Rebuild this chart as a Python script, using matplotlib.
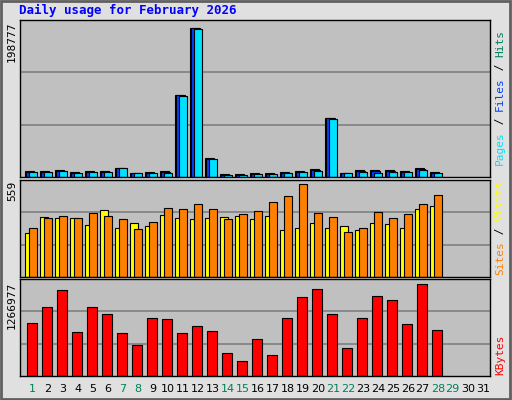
import matplotlib
matplotlib.use("Agg")
import matplotlib.pyplot as plt
from matplotlib.patches import Rectangle

days = list(range(1, 32))
ndays = 28
hits = [7628, 7628, 8974, 6282, 7628, 7628, 11666, 4936, 6282, 7628, 109932, 198777, 25127, 3590,
        3590, 4936, 4936, 6282, 7628, 10320, 78971, 4936, 8974, 8974, 8974, 7628, 11666, 6282]
files = [7000, 7000, 8300, 5600, 7000, 7000, 11666, 4936, 5600, 6300, 109000, 198300, 24500, 2900,
         2900, 4300, 4300, 5600, 7000, 9000, 78300, 4936, 7600, 7600, 7600, 7000, 10300, 5600]
pages = [6282, 6282, 7628, 4936, 6282, 6282, 11666, 4936, 4936, 4936, 108137, 197880, 23781, 2244,
         2244, 3590, 3590, 4936, 6282, 7628, 77625, 4936, 6282, 4936, 6282, 6282, 8974, 4936]
sites = [262, 359, 353, 353, 311, 402, 292, 323, 305, 371, 353, 347, 353, 359,
         365, 347, 365, 280, 292, 323, 292, 305, 280, 323, 317, 292, 408, 426]
visits = [292, 353, 369, 353, 384, 369, 347, 287, 329, 414, 408, 438, 408, 347,
          377, 396, 450, 486, 559, 384, 359, 268, 292, 389, 353, 377, 438, 492]
kbytes = [725968, 957168, 1183744, 601120, 947920, 850816, 587248, 420784, 795328, 781456,
          587248, 684352, 614992, 323680, 212704, 504016, 295936, 795328, 1086640, 1197616,
          850816, 379168, 795328, 1100512, 1045024, 712096, 1266977, 628864]
weekend = [1, 7, 8, 14, 15, 21, 22, 28, 29]

W, H = 512, 400
fig = plt.figure(figsize=(W / 100, H / 100), dpi=100)
fig.patch.set_facecolor("#e0e0e0")
fig.patches.append(Rectangle((0.002, 0.003), 0.995, 0.994, transform=fig.transFigure,
                             fill=False, edgecolor="#606060", lw=2))
mono = "DejaVu Sans Mono"

def add_ax(top, bottom):
    ax = fig.add_axes([20 / W, 1 - bottom / H, 470 / W, (bottom - top) / H])
    ax.set_facecolor("#c0c0c0")
    ax.set_xlim(0.15, 0.15 + 470 / 15)
    ax.set_xticks([])
    ax.set_yticks([])
    for s in ax.spines.values():
        s.set_color("black")
        s.set_linewidth(1)
    return ax

def grid(ax, ymax):
    for f in (1 / 3, 2 / 3):
        ax.axhline(ymax * f, color="#808080", lw=1.2, zorder=0)

x = list(range(1, ndays + 1))
ec = dict(edgecolor="black", linewidth=0.8)

ax1 = add_ax(20, 177)
ym = 198777 * 156 / 148
ax1.set_ylim(0, ym)
grid(ax1, ym)
ax1.bar([d - 0.5 for d in x], hits, width=0.55, align="edge", color="#00805c", **ec)
ax1.bar([d - 0.43 for d in x], files, width=0.55, align="edge", color="#0040ff", **ec)
ax1.bar([d - 0.28 for d in x], pages, width=0.55, align="edge", color="#00e0ff", **ec)

ax2 = add_ax(180, 277)
ym = 559 * 96 / 92
ax2.set_ylim(0, ym)
grid(ax2, ym)
ax2.bar([d - 0.5 for d in x], sites, width=0.5, align="edge", color="#ffff00", **ec)
ax2.bar([d - 0.23 for d in x], visits, width=0.5, align="edge", color="#ff8000", **ec)

ax3 = add_ax(279, 376)
ym = 1266977 * 96 / 91
ax3.set_ylim(0, ym)
grid(ax3, ym)
ax3.bar([d - 0.07 for d in x], kbytes, width=0.67, color="#ff0000", **ec)

for d in days:
    fig.text((20 + (d - 0.15) * 15) / W, 1 - 389 / H, str(d), ha="center", va="center",
             fontsize=8, color="#00805c" if d in weekend else "black")

fig.text(19 / W, 1 - 10 / H, "Daily usage for February 2026", fontsize=9, fontweight="bold",
         color="#0000ff", family=mono, va="center", ha="left")

for txt, top in (("198777", 22), ("559", 181), ("1266977", 282)):
    fig.text(12 / W, 1 - top / H, txt, rotation=90, fontsize=8, va="top", ha="center", family=mono)

def right_label(parts, bottom):
    y = 1 - bottom / H
    r = fig.canvas.get_renderer()
    for t, c in parts:
        tx = fig.text(500 / W, y, t, rotation=90, fontsize=8, color=c, family=mono,
                      va="bottom", ha="center")
        bb = tx.get_window_extent(renderer=r)
        y += bb.height / H

right_label([("Pages", "#00e0ff"), (" / ", "black"), ("Files", "#0040ff"), (" / ", "black"),
             ("Hits", "#00805c")], 165)
right_label([("Sites", "#ff8000"), (" / ", "black"), ("Visits", "#ffff00")], 275)
right_label([("KBytes", "#ff0000")], 375)

fig.savefig("out.png", dpi=100, facecolor=fig.get_facecolor())
